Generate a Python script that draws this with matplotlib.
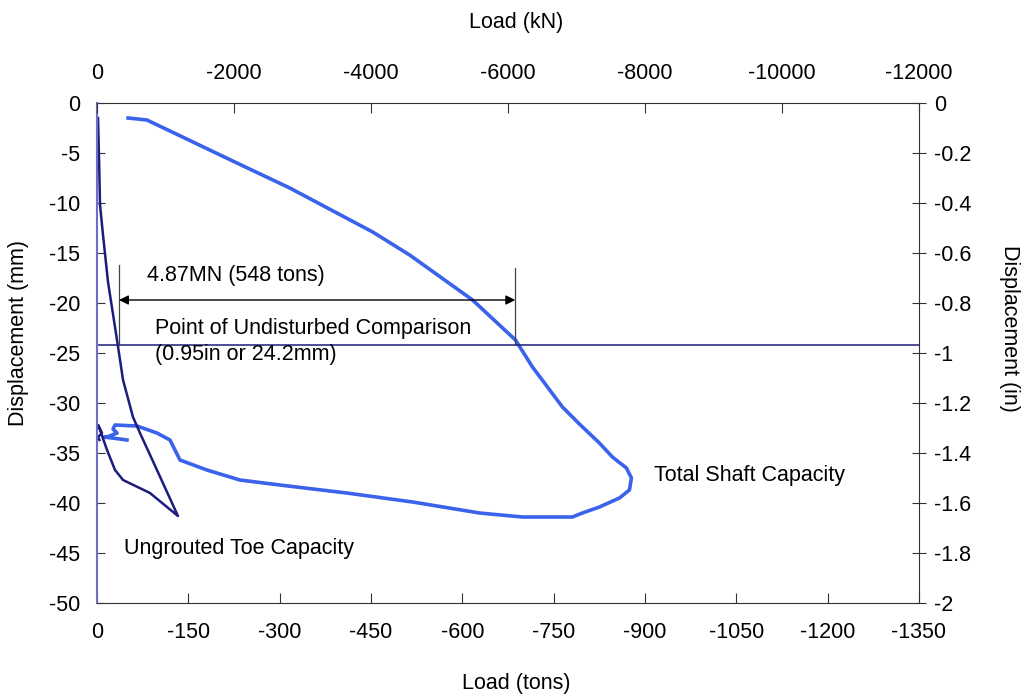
"""Load-displacement curves for the shaft test: total shaft capacity vs. ungrouted toe."""
import matplotlib
matplotlib.use("Agg")
import matplotlib.pyplot as plt

plt.rcParams["font.family"] = ["Liberation Sans", "DejaVu Sans"]
plt.rcParams["font.size"] = 15.5

# Total shaft capacity (load in tons, displacement in mm)
shaft_load = [-50.9, -67.3, -82.0, -226.4, -316.6, -452.8, -513.5, -616.8, -687.3,
              -715.2, -764.4, -792.3, -825.1, -846.5, -869.5, -877.7, -874.4, -858.0,
              -825.1, -797.2, -780.8, -698.8, -628.3, -518.4, -410.1, -300.2, -234.6,
              -180.4, -136.2, -128.0, -119.8, -98.4, -65.6, -29.5, -26.2, -32.8, -16.4,
              -11.5, -37.7, -49.2]
shaft_disp = [-1.5, -1.6, -1.7, -5.9, -8.5, -12.9, -15.2, -19.7, -23.7,
              -26.4, -30.4, -32.1, -34.0, -35.4, -36.5, -37.5, -38.7, -39.5,
              -40.4, -41.0, -41.4, -41.4, -41.0, -39.9, -39.0, -38.2, -37.7,
              -36.7, -35.7, -34.7, -33.7, -33.0, -32.3, -32.2, -32.6, -33.0, -33.4,
              -33.4, -33.6, -33.7]

# Ungrouted toe capacity
toe_load = [-1.6, -3.3, -4.9, -9.8, -18.0, -21.3, -32.8, -42.7, -59.0, -70.5, -98.4,
            -132.9, -86.9, -42.7, -29.5, -16.4, -4.9, -1.6, -8.2, -1.6, -4.0]
toe_disp = [-1.5, -5.7, -10.2, -13.2, -17.9, -19.2, -23.7, -27.7, -31.4, -33.0, -36.7,
            -41.3, -39.0, -37.7, -36.7, -34.7, -32.7, -32.2, -33.0, -33.4, -33.7]

comparison_disp = -24.2  # 0.95 in

tons_ticks = list(range(0, -1351, -150))
mm_ticks = list(range(0, -51, -5))
kn_ticks = list(range(0, -12001, -2000))
in_ticks = [0, -0.2, -0.4, -0.6, -0.8, -1, -1.2, -1.4, -1.6, -1.8, -2]

shaft_color = "#3a62ea"
toe_color = "#1c1c7c"

fig = plt.figure(figsize=(10.27, 6.98), dpi=100)
ax = fig.add_axes([0.0945, 0.1361, 0.8003, 0.7163])

ax.plot(shaft_load, shaft_disp, color=shaft_color, lw=2.6, solid_joinstyle="round")
ax.plot(toe_load, toe_disp, color=toe_color, lw=1.8, solid_joinstyle="round")
ax.axhline(comparison_disp, color=toe_color, lw=1.1)

ax.set_xlim(0, -1350)
ax.set_ylim(-50, 0)
ax.set_xticks(tons_ticks)
ax.set_yticks(mm_ticks)
ax.set_xticklabels([str(t) for t in tons_ticks])
ax.set_yticklabels([str(t) for t in mm_ticks])
ax.tick_params(axis="x", direction="in", length=7, pad=14, color="#333333")
ax.tick_params(axis="y", direction="in", length=6, pad=12, color="#333333")
for side in ["top", "bottom", "right"]:
    ax.spines[side].set_color("#333333")
ax.spines["left"].set_color("#6e6ec4")
ax.spines["left"].set_linewidth(1.5)

# secondary scales: kN on top, inches on the right
top = ax.twiny()
top.set_xlim(0, -12000)
top.set_xticks(kn_ticks)
top.set_xticklabels([str(t) for t in kn_ticks])
top.tick_params(axis="x", direction="in", length=7, pad=14, color="#333333")

right = ax.twinx()
right.set_ylim(-2, 0)
right.set_yticks(in_ticks)
right.set_yticklabels(["0" if t == 0 else "%g" % t for t in in_ticks])
right.tick_params(axis="y", direction="inout", length=10, pad=6, color="#333333")
for a in (top, right):
    for s in a.spines.values():
        s.set_visible(False)
right.spines["right"].set_visible(True)
right.spines["right"].set_color("#333333")
ax.spines["right"].set_visible(False)

# dimension between the two curves at the comparison level
ax.plot([-36, -36], [-16.2, comparison_disp], color="#444444", lw=0.9)
ax.plot([-687, -687], [-16.5, comparison_disp], color="#444444", lw=0.9)
ax.annotate("", xy=(-36, -19.7), xytext=(-687, -19.7),
            arrowprops=dict(arrowstyle="<|-|>", color="black", lw=1.0,
                            mutation_scale=14, shrinkA=0, shrinkB=0))
ax.text(-82, -17.2, "4.87MN (548 tons)", va="center", ha="left")
ax.text(-95, -22.5, "Point of Undisturbed Comparison", va="center", ha="left")
ax.text(-95, -25.1, "(0.95in or 24.2mm)", va="center", ha="left")
ax.text(-915, -37.2, "Total Shaft Capacity", va="center", ha="left")
ax.text(-44, -44.5, "Ungrouted Toe Capacity", va="center", ha="left")

fig.text(0.503, 0.968, "Load (kN)", ha="center", va="center")
fig.text(0.503, 0.021, "Load (tons)", ha="center", va="center")
fig.text(0.018, 0.523, "Displacement (mm)", ha="center", va="center", rotation=90)
fig.text(0.983, 0.529, "Displacement (in)", ha="center", va="center", rotation=270)

fig.savefig("out.png", dpi=100)
